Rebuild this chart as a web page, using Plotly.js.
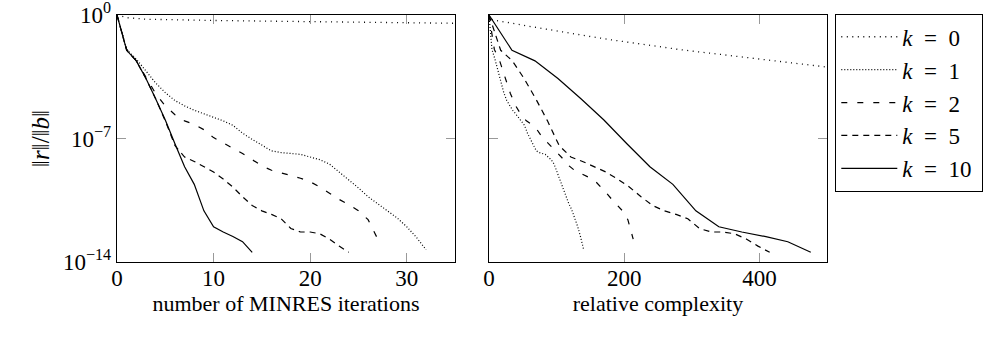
<!DOCTYPE html>
<html>
<head>
<meta charset="utf-8">
<script src="https://cdn.plot.ly/plotly-3.0.1.min.js"></script>
<style>
  html, body { margin: 0; padding: 0; background: #fff; }
  #chart { width: 984px; height: 338px; }
</style>
</head>
<body>
<div id="chart"></div>
<script>
// ---- data (log10 of relative residual ||r||/||b||) ----
const seriesLabels = ["<i>k</i>\u2002=\u20020\u2009", "<i>k</i>\u2002=\u20021\u2009", "<i>k</i>\u2002=\u20022\u2009", "<i>k</i>\u2002=\u20025\u2009", "<i>k</i>\u2002=\u200210\u2009"];

// k = 0: iteration numbers and residuals (long, slow run)
const iterK0 = [0, 1, 3, 6, 10, 16, 20, 28, 35, 50, 71, 85, 120, 150, 183, 219, 250, 282, 327, 381, 440, 500];
const logResK0 = [0, -0.15, -0.24, -0.28, -0.31, -0.35, -0.37, -0.42, -0.47, -0.58, -0.72, -0.78, -1.02, -1.22, -1.42, -1.6, -1.78, -1.96, -2.16, -2.38, -2.65, -2.95];

// k = 1, 2, 5, 10: one value per MINRES iteration, starting at iteration 0
const logResK1 = [0, -1.95, -2.5, -3.15, -3.85, -4.4, -4.85, -5.15, -5.4, -5.6, -5.8, -6.0, -6.25, -6.7, -7.05, -7.4, -7.7, -7.8, -7.85, -7.9, -8.05, -8.2, -8.45, -8.9, -9.3, -9.8, -10.3, -10.7, -11.05, -11.5, -12.0, -12.6, -13.3];
const logResK2 = [0, -1.95, -2.6, -3.5, -4.45, -5.15, -5.65, -6.0, -6.2, -6.5, -6.95, -7.25, -7.55, -7.85, -8.2, -8.55, -8.8, -8.95, -9.1, -9.25, -9.45, -9.75, -10.1, -10.45, -10.75, -11.1, -11.6, -12.7];
const logResK5 = [0, -2.0, -2.6, -3.6, -4.75, -6.0, -7.4, -8.05, -8.3, -8.6, -8.9, -9.3, -9.75, -10.3, -10.8, -11.1, -11.3, -11.55, -12.1, -12.3, -12.3, -12.4, -12.7, -13.1, -13.45];
const logResK10 = [0, -2.0, -2.6, -3.6, -4.75, -5.95, -7.3, -8.6, -9.6, -11.1, -12.0, -12.3, -12.55, -12.85, -13.45];

// relative complexity of one iteration for each k
const costPerIter = [1, 4.375, 7.9, 17.3, 34];

// tick labels
const xTicksLeft = [0, 10, 20, 30];
const xTicksRight = [0, 200, 400];
const yTickVals = [1, 1e-7, 1e-14];
const yTickText = ["10<sup>0</sup>", "10<sup>\u22127</sup>", "10<sup>\u221214</sup>"];

// ---- build traces ----
const seq = n => Array.from({length: n}, (_, i) => i);
const toVal = arr => arr.map(v => Math.pow(10, v));

const iterLists = [iterK0, seq(logResK1.length), seq(logResK2.length), seq(logResK5.length), seq(logResK10.length)];
const logLists = [logResK0, logResK1, logResK2, logResK5, logResK10];
const dashes = ["1px,4.5px", "1px,2px", "6px,10px", "6px,5px", "solid"];
const widths = [1.3, 1.2, 1.2, 1.2, 1.2];

const traces = [];
for (let i = 0; i < 5; i++) {
  const y = toVal(logLists[i]);
  traces.push({
    x: iterLists[i], y: y, xaxis: "x", yaxis: "y",
    type: "scatter", mode: "lines", name: seriesLabels[i],
    line: {color: "black", width: widths[i], dash: dashes[i]},
    legendgroup: "g" + i, showlegend: true, hoverinfo: "skip"
  });
  traces.push({
    x: iterLists[i].map(v => v * costPerIter[i]), y: y, xaxis: "x2", yaxis: "y2",
    type: "scatter", mode: "lines", name: seriesLabels[i],
    line: {color: "black", width: widths[i], dash: dashes[i]},
    legendgroup: "g" + i, showlegend: false, hoverinfo: "skip"
  });
}

const FONT = "Liberation Serif";
const FS = 22;
const TFS = 23;
function mk(extra) {
  return Object.assign({
    ticks: "inside", ticklen: 9, tickwidth: 1, tickcolor: "#999",
    showline: true, linecolor: "black", linewidth: 1.3, mirror: "allticks",
    showgrid: false, zeroline: false, automargin: false,
    ticklabeloverflow: "allow",
    tickfont: {family: FONT, size: TFS, color: "black"}
  }, extra);
}

const H = 338, W = 984;
const layout = {
  width: W, height: H,
  margin: {l: 0, r: 0, t: 0, b: 0},
  paper_bgcolor: "white", plot_bgcolor: "white",
  font: {family: FONT, size: FS, color: "black"},
  xaxis: mk({
    domain: [117 / W, 455 / W], range: [0, 35], anchor: "y",
    tickmode: "array", tickvals: xTicksLeft, ticktext: xTicksLeft.map(String),
    ticklabelstandoff: -5,
    title: {text: "number of MINRES iterations", font: {family: FONT, size: FS, color: "black"}, standoff: 0}
  }),
  yaxis: mk({
    domain: [(H - 262) / H, (H - 15) / H], type: "log", range: [-14, 0], anchor: "x",
    tickmode: "array", tickvals: yTickVals, ticktext: yTickText,
    title: {text: "\u2016<i>r</i>\u2016/\u2016<i>b</i>\u2016", font: {family: FONT, size: 25, color: "black"}, standoff: 6}
  }),
  xaxis2: mk({
    domain: [489 / W, 827 / W], range: [0, 500], anchor: "y2",
    tickmode: "array", tickvals: xTicksRight, ticktext: xTicksRight.map(String),
    ticklabelstandoff: -5,
    title: {text: "relative complexity", font: {family: FONT, size: FS, color: "black"}, standoff: 0}
  }),
  yaxis2: mk({
    domain: [(H - 262) / H, (H - 15) / H], type: "log", range: [-14, 0], anchor: "x2",
    tickmode: "array", tickvals: yTickVals, ticktext: yTickText, showticklabels: false
  }),
  showlegend: true,
  legend: {
    x: 835 / W, y: (H - 14) / H, xanchor: "left", yanchor: "top",
    bgcolor: "white", bordercolor: "black", borderwidth: 1.3,
    font: {family: FONT, size: 23, color: "black"},
    tracegroupgap: 2, traceorder: "normal", itemwidth: 56
  }
};

Plotly.newPlot("chart", traces, layout, {staticPlot: true, displayModeBar: false});
</script>
</body>
</html>
